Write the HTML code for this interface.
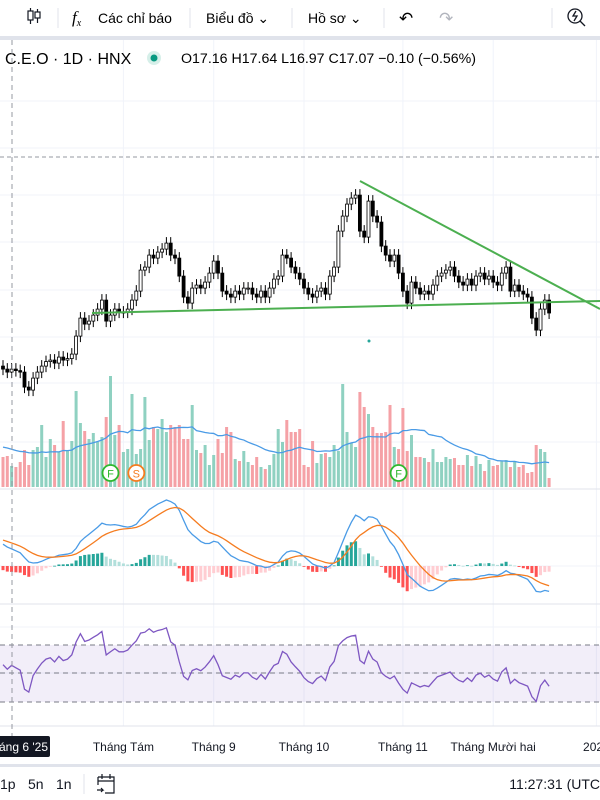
<!DOCTYPE html>
<html><head><meta charset="utf-8">
<style>
html,body{margin:0;padding:0;background:#fff;}
body{width:600px;height:800px;overflow:hidden;position:relative;font-family:"Liberation Sans","Noto Sans CJK SC",sans-serif;color:#131722;}
svg{position:absolute;left:0;top:0;}
</style></head>
<body>
<svg id="chart" width="600" height="800" viewBox="0 0 600 800">
  <g>
    <rect x="0" y="0" width="600" height="36" fill="#fff"/>
    <rect x="0" y="36" width="600" height="4" fill="#e0e3eb"/>
    <g stroke="#131722" stroke-width="1.2" fill="none">
      <line x1="30.5" y1="8" x2="30.5" y2="24"/><rect x="28" y="11" width="5" height="9" fill="#fff"/>
      <line x1="37.5" y1="9" x2="37.5" y2="23"/><rect x="35" y="12" width="5" height="6" fill="#fff"/>
    </g>
    <line x1="58" y1="8" x2="58" y2="28" stroke="#e0e3eb"/>
    <text x="72" y="23" font-size="17" font-style="italic" font-family="Liberation Serif,serif">f<tspan font-size="10" dy="3">x</tspan></text>
    <text x="98" y="23" font-size="14">Các chỉ báo</text>
    <line x1="190" y1="8" x2="190" y2="28" stroke="#e0e3eb"/>
    <text x="206" y="23" font-size="14">Biểu đồ ⌄</text>
    <line x1="292" y1="8" x2="292" y2="28" stroke="#e0e3eb"/>
    <text x="308" y="23" font-size="14">Hồ sơ ⌄</text>
    <line x1="384" y1="8" x2="384" y2="28" stroke="#e0e3eb"/>
    <text x="399" y="24" font-size="17">↶</text>
    <text x="439" y="24" font-size="17" fill="#b2b5be">↷</text>
    <line x1="552" y1="8" x2="552" y2="28" stroke="#e0e3eb"/>
    <g fill="none" stroke="#131722" stroke-width="1.3">
      <circle cx="575" cy="16" r="7"/><line x1="580" y1="21" x2="585" y2="26"/><path d="M576 11 l-3 5 h4 l-3 5"/>
    </g>
  </g>

  <g id="grid" stroke="#f0f3fa" stroke-width="1"></g>
  <line x1="0" y1="157" x2="600" y2="157" stroke="#9598a1" stroke-dasharray="4,3"/>

  <g>
    <text x="5" y="64" font-size="16">C.E.O · 1D · HNX</text>
    <circle cx="154" cy="58" r="7" fill="#d6efe9"/>
    <circle cx="154" cy="58" r="3.5" fill="#089981"/>
    <text x="181" y="63" font-size="14.2">O17.16 H17.64 L16.97 C17.07 −0.10 (−0.56%)</text>
  </g>

  <g id="volume"></g>
  <g id="candles"></g>
  <g id="drawings">
    <line x1="360" y1="181" x2="600" y2="309" stroke="#4caf50" stroke-width="2"/>
    <line x1="92" y1="313" x2="600" y2="301" stroke="#4caf50" stroke-width="2"/>
    <circle cx="369" cy="341" r="1.5" fill="#26a69a"/>
  </g>
  <line x1="0" y1="489" x2="600" y2="489" stroke="#e0e3eb"/>
  <g id="macd"></g>
  <line x1="0" y1="604" x2="600" y2="604" stroke="#e0e3eb"/>
  <g id="rsi">
    <rect x="0" y="645" width="600" height="57" fill="#7e57c2" fill-opacity="0.1"/>
    <line x1="0" y1="645" x2="600" y2="645" stroke="#787b86" stroke-dasharray="5,4"/>
    <line x1="0" y1="673" x2="600" y2="673" stroke="#787b86" stroke-dasharray="5,4"/>
    <line x1="0" y1="702" x2="600" y2="702" stroke="#787b86" stroke-dasharray="5,4"/>
  </g>
  <line x1="0" y1="726" x2="600" y2="726" stroke="#e0e3eb"/>
  <line x1="12" y1="40" x2="12" y2="737" stroke="#9598a1" stroke-dasharray="5,4"/>

  <g id="timeaxis" font-size="12" fill="#131722" text-anchor="middle"></g>
  <rect x="-6" y="736" width="56" height="21" rx="2" fill="#131722"/>
  <text x="48" y="751" font-size="12" fill="#fff" text-anchor="end">Tháng 6 '25</text>

  <rect x="0" y="764" width="600" height="3" fill="#e0e3eb"/>
  <g font-size="14" fill="#131722">
    <text x="0" y="789">1p</text>
    <text x="28" y="789">5n</text>
    <text x="56" y="789">1n</text>
    <line x1="84" y1="774" x2="84" y2="794" stroke="#e0e3eb"/>
    <g fill="none" stroke="#131722" stroke-width="1.2">
      <path d="M98 777 h16 v16 h-9 M98 777 v8 M98 781 h16 M102 774 v5 M110 774 v5 M97 790 h6 l-2 -2 M103 790 l-2 2"/>
    </g>
    <text x="600" y="789" text-anchor="end">11:27:31 (UTC</text>
  </g>
</svg>
<script>
// ---- data ----
const priorCloses = [14.0,14.1,14.3,14.4,14.6,14.8,14.9,15.1,15.3,15.4,15.6,15.7,15.8,15.7,15.6,15.5,15.4,15.4,15.3,15.3];
const priorVolumes = [50,48,46,45,44,43,42,41,40,40,40,39,39,38,38,38,37,37,36,36];
const closes = [15.2,15.1,15.2,15.15,15.1,14.6,14.5,14.9,15.1,15.3,
15.45,15.5,15.4,15.6,15.5,15.55,15.7,16.3,16.9,16.7,
16.8,17.0,17.2,17.5,16.8,17.0,17.2,17.1,17.1,17.2,
17.5,17.8,18.5,18.6,19.0,18.9,19.1,19.2,19.4,19.0,
18.9,18.3,17.6,17.4,17.9,18.0,17.9,18.1,18.4,18.8,
18.4,17.8,17.7,17.6,17.8,17.7,17.9,17.9,17.7,17.6,
17.8,17.6,17.9,18.2,18.3,19.0,18.9,18.6,18.4,18.2,
17.9,17.7,17.6,17.8,17.9,17.7,18.3,18.6,19.8,20.3,
20.7,20.9,21.0,19.8,19.6,20.8,20.3,20.1,19.3,19.0,
18.8,19.0,18.4,17.8,17.4,18.1,17.9,17.7,17.8,17.7,
18.0,18.3,18.4,18.5,18.6,18.3,18.1,18.0,18.2,18.0,
18.3,18.4,18.2,18.3,18.1,18.0,18.4,18.6,17.8,18.0,
17.8,17.7,17.6,16.9,16.5,17.2,17.5,17.07];
const volumes = [30,31,21,20,25,37,22,37,40,62,
30,48,42,35,66,36,46,96,64,56,
48,54,45,50,70,111,52,62,35,38,
93,33,38,90,47,60,58,68,55,62,
60,62,48,48,82,37,34,42,22,32,
48,34,60,55,28,26,36,25,22,30,
20,18,22,33,58,45,67,55,55,58,
22,20,46,24,33,34,30,42,36,103,
55,44,40,95,80,73,60,54,54,55,
82,40,38,79,36,52,30,30,29,25,
38,25,25,30,28,29,22,22,32,21,
31,23,16,27,21,22,26,27,20,26,
20,22,14,15,42,38,35,9];
const monthLabels = ["Tháng Tám","Tháng 9","Tháng 10","Tháng 11","Tháng Mười hai","2026"];
const monthBarIndex = [28,49,70,93,114,138];
const markerLabels = ["F","S","F"];
const markerBarIndex = [25,31,92];

// ---- scales ----
const NS="http://www.w3.org/2000/svg";
const xOf = i => 3 + i*4.3;
const yPrice = p => 313 - (p - 17.07)*30;
const yVol = v => 487 - v;
function mk(tag, attrs, parent){const e=document.createElementNS(NS,tag);for(const k in attrs)e.setAttribute(k,attrs[k]);parent.appendChild(e);return e;}
const P = priorCloses.length;
const allCloses = priorCloses.concat(closes);
const allVols = priorVolumes.concat(volumes);

const grid=document.getElementById('grid');
[101,148,195,242,290,337,383,442,536,566,627,673].forEach(y=>{const l=mk('line',{x1:0,x2:600,y1:y,y2:y},grid);

});
monthBarIndex.forEach(i=>{const l=mk('line',{x1:xOf(i),x2:xOf(i),y1:40,y2:726},grid);

});

const ta=document.getElementById('timeaxis');
monthLabels.forEach((t,k)=>{const e=mk('text',{x:xOf(monthBarIndex[k]),y:751},ta);e.textContent=t;

});

// volume
const vg=document.getElementById('volume');
closes.forEach((c,i)=>{const o=allCloses[P+i-1];const v=volumes[i];
const r=mk('rect',{x:xOf(i)-1.5,y:yVol(v),width:3,height:v,fill:c>=o?'#8fd1c1':'#f5a1a6'},vg);

});
const ma=[];for(let i=0;i<volumes.length;i++){let s=0;for(let j=P+i-19;j<=P+i;j++)s+=allVols[j];ma.push(s/20);}
const vml=mk('polyline',{points:ma.map((v,i)=>xOf(i)+','+yVol(v)).join(' '),fill:'none',stroke:'#4a9be6','stroke-width':1.3},vg);


markerBarIndex.forEach((bi,k)=>{const col=markerLabels[k]==='S'?'#f57c20':'#2eb82e';
const c=mk('circle',{cx:xOf(bi),cy:473,r:8,fill:'#fff',stroke:col,'stroke-width':1.8},vg);


const t=mk('text',{x:xOf(bi),y:477.5,'font-size':11,'text-anchor':'middle',fill:col},vg);t.textContent=markerLabels[k];

});

// candles
const cg=document.getElementById('candles');
closes.forEach((c,i)=>{const o=allCloses[P+i-1];const up=c>=o;
const hi=Math.max(o,c)+0.2,lo=Math.min(o,c)-0.2;const x=xOf(i);
const w=mk('line',{x1:x,x2:x,y1:yPrice(hi),y2:yPrice(lo),stroke:'#000','stroke-width':1},cg);


const yt=yPrice(Math.max(o,c)),h=Math.max(1,yPrice(Math.min(o,c))-yt);
const b=mk('rect',{x:x-1.5,y:yt,width:3,height:h,fill:up?'#fff':'#000',stroke:'#000','stroke-width':0.8},cg);

});

// MACD
function ema(a,n){const k=2/(n+1);let e=a[0];return a.map(v=>(e=v*k+e*(1-k)));}
const e12=ema(allCloses,12),e26=ema(allCloses,26);
const macdAll=e12.map((v,i)=>v-e26[i]);const sigAll=ema(macdAll,9);
const macd=macdAll.slice(P),sig=sigAll.slice(P);
const hist=macd.map((v,i)=>v-sig[i]);
const mmax=Math.max(...macd.map(Math.abs));const mk2=66/mmax;const yM=v=>566-v*mk2;
const mg=document.getElementById('macd');
hist.forEach((h,i)=>{const prev=i?hist[i-1]:(macdAll[P-1]-sigAll[P-1]);let col;
if(h>=0)col=h>=prev?'#26a69a':'#b2dfdb';else col=h<prev?'#ff5252':'#ffcdd2';
const y1=Math.min(yM(h),566),hh=Math.max(0.8,Math.abs(yM(h)-566));
const r=mk('rect',{x:xOf(i)-1.5,y:y1,width:3,height:hh,fill:col},mg);

});
const ml=mk('polyline',{points:macd.map((v,i)=>xOf(i)+','+yM(v)).join(' '),fill:'none',stroke:'#4a9be6','stroke-width':1.3},mg);


const sl=mk('polyline',{points:sig.map((v,i)=>xOf(i)+','+yM(v)).join(' '),fill:'none',stroke:'#f57c20','stroke-width':1.3},mg);



// RSI
const rsiAll=[];let ag=0.1,al=0.1;
for(let i=1;i<allCloses.length;i++){const d=allCloses[i]-allCloses[i-1];const g=Math.max(d,0),l=Math.max(-d,0);
ag=(ag*13+g)/14;al=(al*13+l)/14;rsiAll[i]=100-100/(1+ag/(al||1e-9));}
const rsi=rsiAll.slice(P);
const yR=v=>702-(v-30)/40*57;
const rl=mk('polyline',{points:rsi.map((v,i)=>xOf(i)+','+yR(v)).join(' '),fill:'none',stroke:'#7e57c2','stroke-width':1.3},document.getElementById('rsi'));


</script>
</body></html>
